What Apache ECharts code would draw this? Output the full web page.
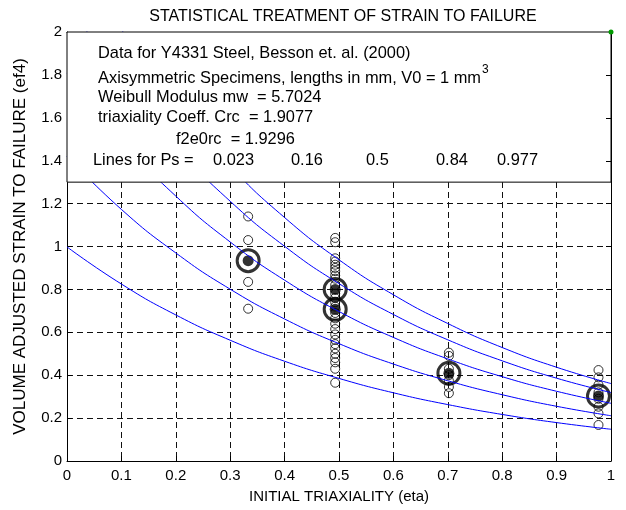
<!DOCTYPE html>
<html><head><meta charset="utf-8">
<script src="https://cdn.jsdelivr.net/npm/echarts@6/dist/echarts.min.js"></script>
<style>html,body{margin:0;padding:0;background:#fff}#c{width:626px;height:510px}</style>
</head><body><div id="c"></div>
<script>
const FONT = '"Liberation Sans", Arial, Helvetica, sans-serif';

// ---- data ----
const curveEta     = [0, 0.1, 0.2, 0.3, 0.4, 0.5, 0.6, 0.7, 0.8, 0.9, 1.0];
const curvePs0023  = [0.998, 0.825, 0.681, 0.563, 0.465, 0.385, 0.318, 0.263, 0.217, 0.179, 0.148];
const curvePs016   = [1.420, 1.173, 0.970, 0.801, 0.662, 0.547, 0.452, 0.374, 0.309, 0.255, 0.211];
const curvePs05    = [1.809, 1.495, 1.235, 1.021, 0.843, 0.697, 0.576, 0.476, 0.393, 0.325, 0.269];
const curvePs084   = [2.146, 1.773, 1.465, 1.211, 1.001, 0.827, 0.683, 0.565, 0.467, 0.386, 0.319];
const curvePs0977  = [2.435, 2.012, 1.663, 1.374, 1.135, 0.938, 0.775, 0.641, 0.529, 0.437, 0.361];

const groupEta = [0.333, 0.493, 0.702, 0.977];
const strainsEta1 = [1.14, 1.03, 0.835, 0.71];
const strainsEta2 = [1.04, 1.02, 0.945, 0.93, 0.915, 0.90, 0.885, 0.865, 0.85, 0.82, 0.78, 0.76, 0.74, 0.72, 0.69,
                     0.665, 0.64, 0.615, 0.59, 0.565, 0.545, 0.525, 0.50, 0.48, 0.46, 0.43, 0.365];
const strainsEta3 = [0.505, 0.49, 0.43, 0.40, 0.375, 0.345, 0.316];
const strainsEta4 = [0.424, 0.39, 0.355, 0.32, 0.29, 0.253, 0.222, 0.168];

const meanEta    = [0.333, 0.493, 0.493, 0.702, 0.977];
const meanStrain = [0.934, 0.800, 0.707, 0.409, 0.303];

const cornerPoint = [1, 2];

const xTickValues = [0, 0.1, 0.2, 0.3, 0.4, 0.5, 0.6, 0.7, 0.8, 0.9, 1];
const yTickValues = [0, 0.2, 0.4, 0.6, 0.8, 1, 1.2, 1.4, 1.6, 1.8, 2];

const infoLines = [
  'Data for Y4331 Steel, Besson et. al. (2000)',
  'Axisymmetric Specimens, lengths in mm, V0 = 1 mm',
  'Weibull Modulus mw  = 5.7024',
  'triaxiality Coeff. Crc  = 1.9077',
  'f2e0rc  = 1.9296'
];
const psLabel = 'Lines for Ps =';
const psLevels = ['0.023', '0.16', '0.5', '0.84', '0.977'];
const boxBottom = 1.3;

// ---- build ----
const chart = echarts.init(document.getElementById('c'), null, {renderer: 'canvas'});

function pairs(xs, ys) { return ys.map((y, i) => [xs[i], y]); }
function groupPairs(x, ys) { return ys.map(y => [x, y]); }

const openPts = [].concat(
  groupPairs(groupEta[0], strainsEta1),
  groupPairs(groupEta[1], strainsEta2),
  groupPairs(groupEta[2], strainsEta3),
  groupPairs(groupEta[3], strainsEta4)
);
const means = pairs(meanEta, meanStrain);
const curves = [curvePs0023, curvePs016, curvePs05, curvePs084, curvePs0977];

const axisCommon = {
  type: 'value',
  axisLine: {show: true, onZero: false, lineStyle: {color: '#000', width: 1}},
  axisTick: {show: true, inside: true, length: 5, lineStyle: {color: '#000', width: 1}},
  axisLabel: {color: '#000', fontSize: 15, fontFamily: FONT},
  splitLine: {show: true, lineStyle: {color: '#111', width: 1, type: [6, 4]}},
  minorTick: {show: false}
};

const option = {
  backgroundColor: '#fff',
  animation: false,
  title: {
    text: 'STATISTICAL TREATMENT OF STRAIN TO FAILURE',
    left: 338, top: 4, textAlign: 'center',
    textStyle: {fontSize: 16, fontWeight: 'normal', color: '#000', fontFamily: FONT}
  },
  grid: {left: 67, right: 15, top: 32, bottom: 49, containLabel: false},
  xAxis: [
    Object.assign({}, axisCommon, {
      position: 'bottom', min: 0, max: 1, interval: 0.1,
      axisLabel: Object.assign({}, axisCommon.axisLabel, {margin: 7,
        formatter: v => String(xTickValues.find(t => Math.abs(t - v) < 1e-9) ?? v)}),
      name: 'INITIAL TRIAXIALITY (eta)', nameLocation: 'middle', nameGap: 28,
      nameTextStyle: {fontSize: 15, color: '#000', fontFamily: FONT}
    }),
    Object.assign({}, axisCommon, {
      position: 'top', min: 0, max: 1, interval: 0.1,
      axisLabel: {show: false}, splitLine: {show: false}
    })
  ],
  yAxis: [
    Object.assign({}, axisCommon, {
      position: 'left', min: 0, max: 2, interval: 0.2,
      axisLabel: Object.assign({}, axisCommon.axisLabel, {margin: 5,
        formatter: v => String(yTickValues.find(t => Math.abs(t - v) < 1e-9) ?? v)}),
      name: 'VOLUME ADJUSTED STRAIN TO FAILURE (ef4)', nameLocation: 'middle', nameGap: 38,
      nameTextStyle: {fontSize: 17, color: '#000', fontFamily: FONT}
    }),
    Object.assign({}, axisCommon, {
      position: 'right', min: 0, max: 2, interval: 0.2,
      axisLabel: {show: false}, splitLine: {show: false}
    })
  ],
  series: [].concat(
    curves.map(c => ({
      type: 'line', data: pairs(curveEta, c), smooth: true, symbol: 'none', silent: true,
      lineStyle: {color: '#0000ff', width: 1}, z: 3, clip: true
    })),
    [
      {type: 'scatter', data: openPts, symbol: 'circle', symbolSize: 9, silent: true, z: 2,
       itemStyle: {color: 'rgba(255,255,255,0)', borderColor: '#000', borderWidth: 1}},
      {type: 'scatter', data: means, symbol: 'circle', symbolSize: 22, silent: true, z: 2,
       itemStyle: {color: 'rgba(255,255,255,0)', borderColor: '#000', borderWidth: 3}},
      {type: 'scatter', data: means, symbol: 'circle', symbolSize: 11, silent: true, z: 2,
       itemStyle: {color: '#000', borderColor: '#000', borderWidth: 0}}
    ]
  )
};
chart.setOption(option);

// ---- text box (white panel over the top of the axes) ----
const pTL = chart.convertToPixel({gridIndex: 0}, [0, 2]);
const pBR = chart.convertToPixel({gridIndex: 0}, [1, boxBottom]);
const pCorner = chart.convertToPixel({gridIndex: 0}, cornerPoint);

const cv = document.createElement('canvas').getContext('2d');
const infoFont = '16.4px ' + FONT;
cv.font = infoFont;
const line2W = cv.measureText(infoLines[1]).width;

const textX = 98, ys = [53, 78, 97, 117, 139];
const txt = (t, x, y, font) => ({
  type: 'text', x: x, y: y, z: 100, silent: true,
  style: {text: t, fill: '#000', font: font || infoFont, verticalAlign: 'middle', align: 'left'}
});
const elements = [
  {type: 'rect', z: 50, silent: true,
   shape: {x: pTL[0], y: pTL[1], width: pBR[0] - pTL[0], height: pBR[1] - pTL[1]},
   style: {fill: '#fff', stroke: '#000', lineWidth: 1}},
  txt(infoLines[0], textX, ys[0]),
  txt(infoLines[1], textX, ys[1]),
  txt('3', textX + line2W + 1, ys[1] - 8, '12px ' + FONT),
  txt(infoLines[2], textX, ys[2]),
  txt(infoLines[3], textX, ys[3]),
  txt(infoLines[4], 176, ys[4]),
  txt(psLabel, 93, 160)
];
const psX = [213, 291, 366, 436, 497];
psLevels.forEach((p, i) => elements.push(txt(p, psX[i], 160)));
// right-side inner ticks visible inside the panel
yTickValues.filter(v => v > boxBottom && v < 2).forEach(v => {
  const p = chart.convertToPixel({gridIndex: 0}, [1, v]);
  elements.push({type: 'line', z: 60, silent: true,
    shape: {x1: p[0] - 5, y1: Math.round(p[1]) + 0.5, x2: p[0], y2: Math.round(p[1]) + 0.5},
    style: {stroke: '#000', lineWidth: 1}});
});
elements.push({type: 'circle', z: 110, silent: true,
  shape: {cx: pCorner[0], cy: pCorner[1], r: 2.5}, style: {fill: '#009a00'}});
chart.setOption({graphic: {elements: elements}});
</script>
</body></html>
